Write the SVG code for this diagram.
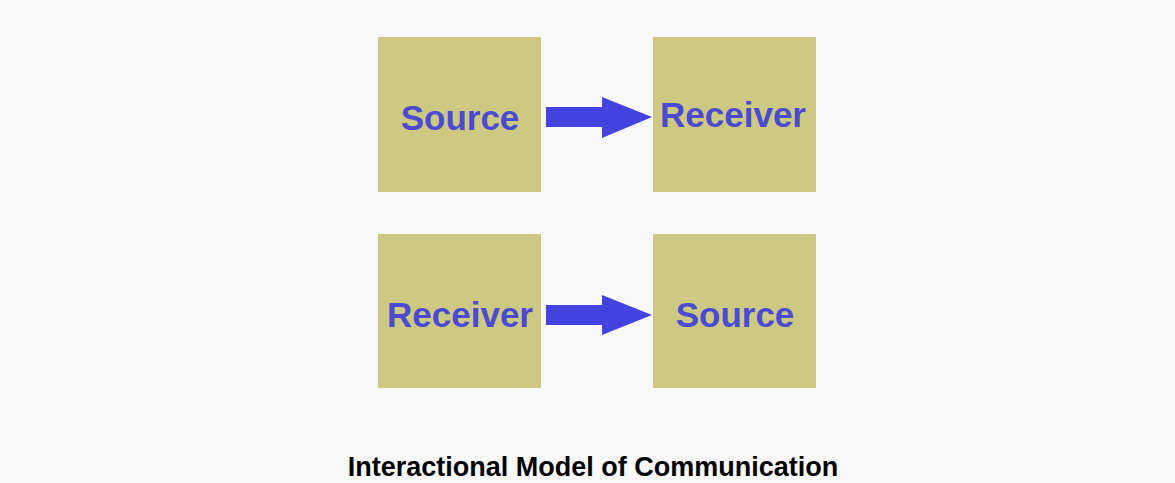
<svg xmlns="http://www.w3.org/2000/svg" width="1175" height="483" viewBox="0 0 1175 483">
<style>
.box{fill:#cdc983}
.lbl{font-family:"Liberation Sans",Arial,sans-serif;font-weight:bold;font-size:35px;fill:#4b4bd2;text-anchor:middle}
.arrow{fill:#4343e0}
.title{font-family:"Liberation Sans",Arial,sans-serif;font-weight:bold;font-size:27px;fill:#000;text-anchor:middle}
</style>
<rect width="1175" height="483" fill="#f8f8f8"/>
<g id="node-source-top"><rect class="box" x="378" y="37" width="163" height="155"/><text class="lbl" x="460" y="130">Source</text></g>
<g id="node-receiver-top"><rect class="box" x="653" y="37" width="163" height="155"/><text class="lbl" x="733" y="127">Receiver</text></g>
<g id="node-receiver-bottom"><rect class="box" x="378" y="234" width="163" height="154"/><text class="lbl" x="460" y="327">Receiver</text></g>
<g id="node-source-bottom"><rect class="box" x="653" y="234" width="163" height="154"/><text class="lbl" x="735" y="327">Source</text></g>
<g id="connectors">
<polygon class="arrow" points="546,107 602,107 602,97 652,117 602,138 602,127 546,127"/>
<polygon class="arrow" points="546,305 602,305 602,295 652,315 602,335 602,325 546,325"/>
</g>
<text class="title" x="593" y="476">Interactional Model of Communication</text>
</svg>
